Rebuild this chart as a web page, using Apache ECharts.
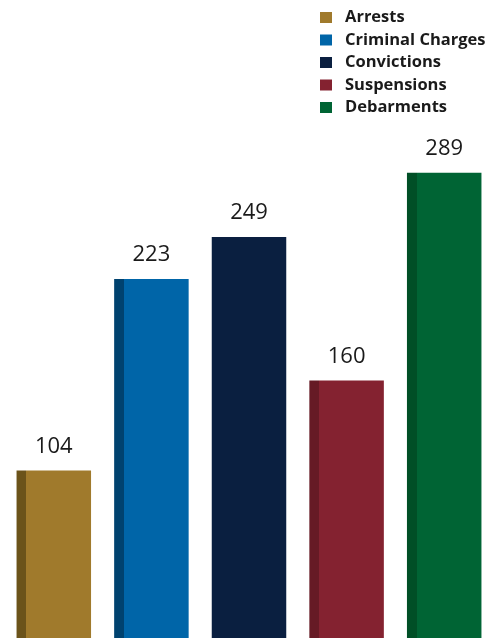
<!DOCTYPE html>
<html><head><meta charset="utf-8">
<script src="https://cdn.jsdelivr.net/npm/echarts@6/dist/echarts.min.js"></script>
<style>html,body{margin:0;padding:0;background:#fff}#c{width:496px;height:638px}</style>
</head><body><div id="c"></div>
<script>
const categories = ['Arrests', 'Criminal Charges', 'Convictions', 'Suspensions', 'Debarments'];
const values = [104, 223, 249, 160, 289];

const mainColors = ['#A07A2C', '#0065A8', '#0A1F40', '#842230', '#006434'];
const darkColors = ['#6B531A', '#00426F', '#0A1F40', '#661A25', '#004F26'];

const chart = echarts.init(document.getElementById('c'), null, {renderer: 'canvas'});
const strip = 0.13;
const series = categories.map((name, i) => ({
  name: name,
  type: 'bar',
  stack: 'all',
  barWidth: 74.5,
  itemStyle: {
    color: {
      type: 'linear', x: 0, y: 0, x2: 1, y2: 0,
      colorStops: [
        {offset: 0, color: darkColors[i]},
        {offset: strip, color: darkColors[i]},
        {offset: strip, color: mainColors[i]},
        {offset: 1, color: mainColors[i]}
      ]
    }
  },
  label: {
    show: true, position: 'top', distance: 13,
    color: '#1a1a1a', fontSize: 22, fontFamily: 'Open Sans'
  },
  data: values.map((v, j) => j === i ? v : '-')
}));

chart.setOption({
  animation: false,
  color: mainColors,
  grid: {left: 5, right: 3, top: 155, bottom: 0},
  legend: {
    orient: 'vertical', left: 320, top: 9, padding: 0,
    itemWidth: 12, itemHeight: 11, itemGap: 5.5,
    icon: 'rect',
    textStyle: {fontSize: 16.5, lineHeight: 16, fontWeight: 'bold', color: '#1a1a1a', fontFamily: 'Open Sans', padding: [0,0,0,8]},
    data: categories.map((n, i) => ({name: n, itemStyle: {color: mainColors[i]}}))
  },
  xAxis: {type: 'category', data: categories, show: false},
  yAxis: {type: 'value', min: 0, max: 300, show: false},
  series: series
});
</script></body></html>
